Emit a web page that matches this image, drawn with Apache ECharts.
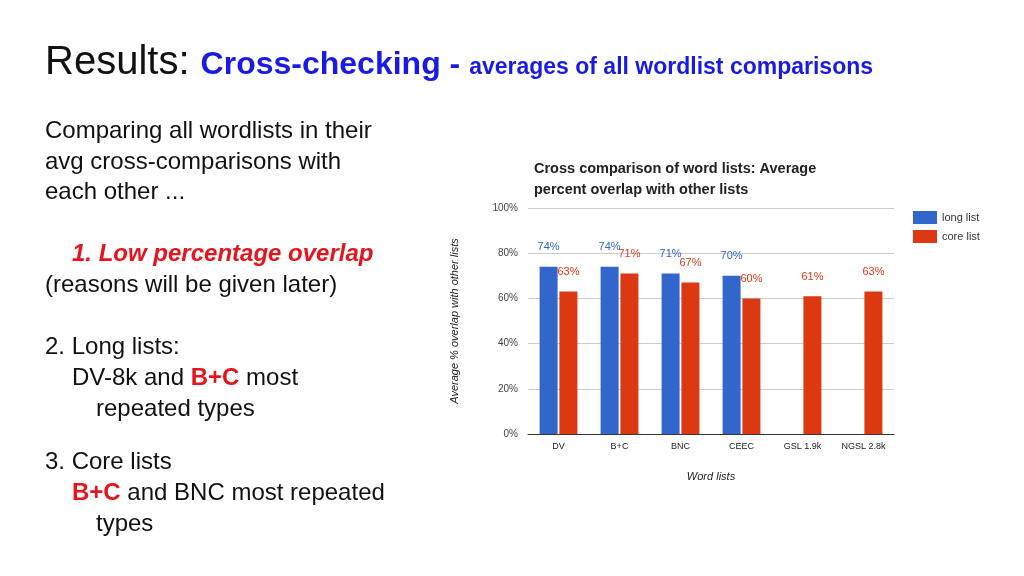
<!DOCTYPE html>
<html><head><meta charset="utf-8">
<script src="https://cdn.jsdelivr.net/npm/echarts@6/dist/echarts.min.js"></script>
<style>
body{margin:0;width:1024px;height:576px;background:#fff;font-family:"Liberation Sans",Arial,sans-serif;overflow:hidden;position:relative}
#c{position:absolute;left:0;top:0;width:1024px;height:576px}
.t{position:absolute;white-space:nowrap;color:#111}
</style></head><body>
<div id="c"></div>
<div class="t" style="left:45px;top:38px;font-size:40px">Results: <span style="color:#1a1ae6;font-weight:bold;font-size:32px">Cross-checking - </span><span style="color:#1a1ae6;font-weight:bold;font-size:23px">averages of all wordlist comparisons</span></div>
<div class="t" style="left:45px;top:115px;font-size:24px;line-height:30.5px">Comparing all wordlists in their<br>avg cross-comparisons with<br>each other ...</div>
<div class="t" style="left:45px;top:237px;font-size:24px;line-height:31px"><span style="color:#e6141e;font-weight:bold;font-style:italic;padding-left:27px">1. Low percentage overlap</span><br>(reasons will be given later)</div>
<div class="t" style="left:45px;top:330px;font-size:24px;line-height:31px">2. Long lists:<br><span style="padding-left:27px">DV-8k and <b style="color:#e6141e">B+C</b> most</span><br><span style="padding-left:51px">repeated types</span></div>
<div class="t" style="left:45px;top:445px;font-size:24px;line-height:31px">3. Core lists<br><span style="padding-left:27px"><b style="color:#e6141e">B+C</b> and BNC most repeated</span><br><span style="padding-left:51px">types</span></div>
<script>
const categories=['DV','B+C','BNC','CEEC','GSL 1.9k','NGSL 2.8k'];
const longList=[74,74,71,70,null,null];
const coreList=[63,71,67,60,61,63];
const chart=echarts.init(document.getElementById('c'));
chart.setOption({
 animation:false,
 title:{text:'Cross comparison of word lists: Average\npercent overlap with other lists',left:529,top:153,textStyle:{fontSize:14.5,fontWeight:'bold',color:'#222',lineHeight:21,fontFamily:'Liberation Sans'}},
 legend:{orient:'vertical',left:908,top:206,itemWidth:24,itemHeight:13,itemGap:6,icon:'rect',textStyle:{fontSize:11,color:'#333'}},
 grid:{left:528,right:130,top:208,bottom:142},
 xAxis:{type:'category',data:categories,name:'Word lists',nameLocation:'middle',nameGap:37,nameTextStyle:{fontStyle:'italic',fontSize:11,color:'#222'},
  axisTick:{show:false},axisLine:{lineStyle:{color:'#333'}},axisLabel:{fontSize:9,color:'#222'}},
 yAxis:{type:'value',min:0,max:100,interval:20,name:'Average % overlap with other lists',nameLocation:'middle',nameGap:68,nameTextStyle:{fontStyle:'italic',fontSize:11,color:'#222'},
  axisLabel:{formatter:'{value}%',fontSize:10,color:'#444',margin:10},splitLine:{lineStyle:{color:'#ccc'}}},
 series:[
  {name:'long list',type:'bar',data:longList,itemStyle:{color:'#3366cc'},barGap:'10%',barCategoryGap:'38%',
   label:{show:true,position:'top',distance:14,formatter:'{c}%',color:'#3366cc',fontSize:11}},
  {name:'core list',type:'bar',data:coreList,itemStyle:{color:'#dc3912'},
   label:{show:true,position:'top',distance:14,formatter:'{c}%',color:'#dc3912',fontSize:11}}
 ]
});
</script></body></html>
